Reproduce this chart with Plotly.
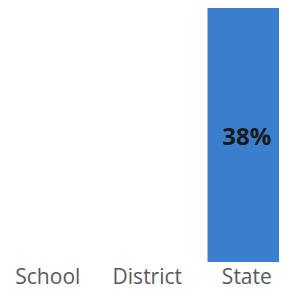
import plotly.graph_objects as go

categories = ["School", "District", "State"]
values = [None, None, 0.38]
labels = ["", "", "38%"]

fig = go.Figure(go.Bar(
    x=categories, y=values, text=labels,
    textposition="inside", insidetextanchor="middle",
    textfont=dict(family="Open Sans", size=24, color="#1a1a1a", weight="bold"),
    marker=dict(color="#3A7ECE", line=dict(width=0)),
    width=0.79,
))
fig.update_layout(
    width=287, height=294,
    margin=dict(l=0, r=0, t=0, b=40),
    paper_bgcolor="white", plot_bgcolor="white",
    showlegend=False,
    xaxis=dict(range=[-0.40, 2.484], showgrid=False, zeroline=False, showline=False,
               ticks="", ticklabelstandoff=0,
               tickfont=dict(family="Open Sans", size=21, color="#595959")),
    yaxis=dict(range=[0, 0.38], visible=False),
    uniformtext=dict(mode=False),
)
fig.write_html("out.html")
